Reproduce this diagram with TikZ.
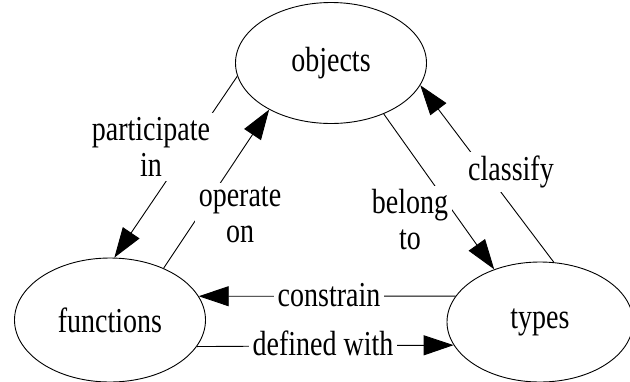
\documentclass[tikz,border=0pt]{standalone}
\usepackage{graphicx}
\usepackage{fontspec}
\setmainfont{Liberation Serif}
\usetikzlibrary{shapes.geometric,arrows.meta}
\newcommand\tallt[1]{\scalebox{1}[1.25]{#1}}
\begin{document}
\begin{tikzpicture}[x=1pt,y=-1pt,
  every node/.style={font=\fontsize{28}{36}\selectfont},
  ent/.style={draw,ellipse,line width=0.9pt,inner sep=0pt},
  lbl/.style={fill=white,align=center,inner sep=4pt},
  conn/.style={line width=0.9pt,-{Triangle[length=30pt,width=20pt]}}]
\useasboundingbox (0,0) rectangle (630,381);
\node[ent,minimum width=191pt,minimum height=121pt] (obj) at (331,63) {\tallt{objects}};
\node[ent,minimum width=191pt,minimum height=124pt] (fun) at (110,320) {\tallt{functions}};
\node[ent,minimum width=186pt,minimum height=120pt] (typ) at (540,322) {\tallt{types}};
\draw[conn] (obj.188) -- (fun.86);
\draw[conn] (fun.44) -- (obj.217);
\draw[conn] (obj.316) -- (typ.131);
\draw[conn] (typ.77) -- (obj.346);
\draw[conn] (typ.163) -- (fun.15);
\draw[conn] (fun.343) -- (typ.195);
\node[lbl] (lpart) at (151,147) {\tallt{participate}\\\tallt{in}};
\node[lbl] (loper) at (240,215) {\tallt{operate}\\\tallt{on}};
\node[lbl] (lbel) at (410,220) {\tallt{belong}\\\tallt{to}};
\node[lbl] (lcls) at (511,172) {\tallt{classify}};
\node[lbl] (lcon) at (329,295) {\tallt{constrain}};
\node[lbl] (ldef) at (323,343) {\tallt{defined with}};
\end{tikzpicture}
\end{document}
